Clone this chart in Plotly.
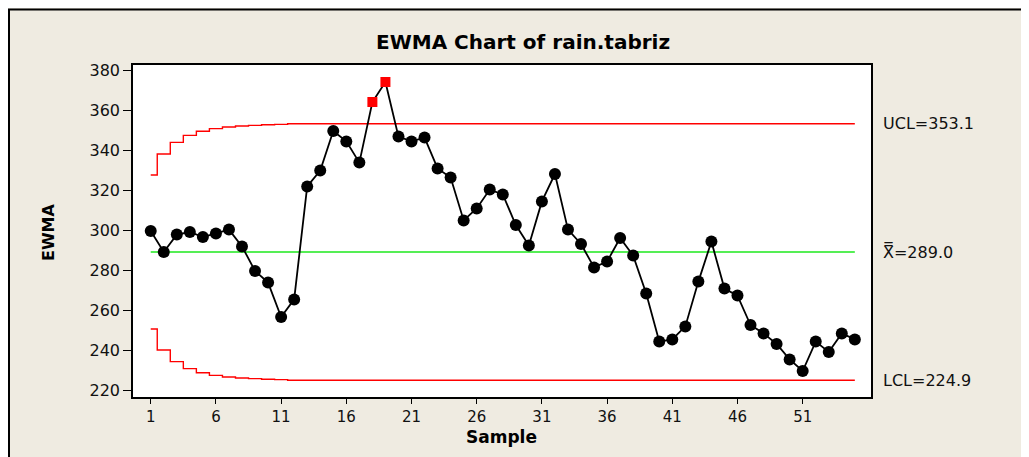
import plotly.graph_objects as go

# ---- data ----
samples = list(range(1, 56))
ewma = [299.5, 289.0, 297.7, 299.0, 296.5, 298.3, 300.2, 291.8, 279.5, 273.7,
        256.5, 265.3, 321.8, 329.7, 349.5, 344.3, 333.7, 364.0, 374.0, 346.7,
        344.3, 346.2, 330.8, 326.2, 304.8, 310.8, 320.2, 317.8, 302.5, 292.3,
        314.3, 328.0, 300.2, 293.0, 281.3, 284.2, 296.0, 287.2, 268.3, 244.2,
        245.3, 251.8, 274.2, 294.2, 270.7, 267.2, 252.5, 248.3, 243.0, 235.3,
        229.5, 244.2, 239.0, 248.3, 245.3]
ucl = [327.5, 338.0, 343.8, 347.3, 349.4, 350.7, 351.5, 352.0, 352.3, 352.6,
       352.8] + [353.1] * 44
lcl = [250.5, 240.0, 234.2, 230.7, 228.6, 227.3, 226.5, 226.0, 225.7, 225.4,
       225.2] + [224.9] * 44
center = 289.0
ucl_label = "UCL=353.1"
cl_label = "X\u033F=289.0"
lcl_label = "LCL=224.9"
xtick_vals = [1, 6, 11, 16, 21, 26, 31, 36, 41, 46, 51]
ytick_vals = [220, 240, 260, 280, 300, 320, 340, 360, 380]

FONT = "DejaVu Sans"
BEIGE = "#EFEBE1"

# out-of-control points (above UCL / below LCL) drawn as red squares
colors, symbols, sizes = [], [], []
for v, u, l in zip(ewma, ucl, lcl):
    if v > u or v < l:
        colors.append("#FF0000"); symbols.append("square"); sizes.append(10)
    else:
        colors.append("#000000"); symbols.append("circle"); sizes.append(12)

fig = go.Figure()
fig.add_trace(go.Scatter(x=samples, y=ucl, mode="lines", line=dict(color="#FF0000", width=1.4, shape="hvh"),
                         hoverinfo="skip", showlegend=False))
fig.add_trace(go.Scatter(x=samples, y=lcl, mode="lines", line=dict(color="#FF0000", width=1.4, shape="hvh"),
                         hoverinfo="skip", showlegend=False))
fig.add_trace(go.Scatter(x=[samples[0], samples[-1]], y=[center, center], mode="lines",
                         line=dict(color="#55EE55", width=2), hoverinfo="skip", showlegend=False))
fig.add_trace(go.Scatter(x=samples, y=ewma, mode="lines+markers",
                         line=dict(color="#000000", width=1.8),
                         marker=dict(color=colors, symbol=symbols, size=sizes, opacity=1,
                                     line=dict(width=0)),
                         opacity=1, showlegend=False))

# page is offset by the 8px body margin: work in page pixels, convert to figure pixels
OFF = 8
W, H = 1029 - OFF, 457 - OFF
L, R, T, B = 133 - OFF, 871 - OFF, 65 - OFF, 397 - OFF
pw, ph = R - L, B - T

def px(xpage):
    return (xpage - OFF - L) / pw

def py(ypage):
    return (B - (ypage - OFF)) / ph

fig.update_layout(
    width=W, height=H,
    margin=dict(l=L, r=W - R, t=T, b=H - B, pad=0),
    paper_bgcolor=BEIGE, plot_bgcolor="#FFFFFF",
    font=dict(family=FONT, color="#111111", size=16),
    showlegend=False,
)
fig.update_xaxes(range=[-0.36, 56.24], tickmode="array", tickvals=xtick_vals,
                 ticks="outside", ticklen=5, tickwidth=1.2, tickcolor="#000000",
                 showgrid=False, zeroline=False, showline=True, linecolor="#000000",
                 linewidth=1.5, mirror=True, tickfont=dict(size=15, family=FONT, color="#111111"))
fig.update_yaxes(range=[216.5, 382.5], tickmode="array", tickvals=ytick_vals,
                 ticks="outside", ticklen=8, tickwidth=1.2, tickcolor="#000000",
                 showgrid=False, zeroline=False, showline=True, linecolor="#000000",
                 linewidth=1.5, mirror=True, tickfont=dict(size=16, family=FONT, color="#111111"))

ann = [
    dict(text="<b>EWMA Chart of rain.tabriz</b>", x=px(523), y=py(42), xref="paper", yref="paper",
         showarrow=False, font=dict(size=20, family=FONT, color="#000000"), xanchor="center", yanchor="middle"),
    dict(text="<b>EWMA</b>", x=px(48), y=py(232), xref="paper", yref="paper", textangle=-90,
         showarrow=False, font=dict(size=16, family=FONT, color="#000000"), xanchor="center", yanchor="middle"),
    dict(text="<b>Sample</b>", x=px(501), y=py(437), xref="paper", yref="paper",
         showarrow=False, font=dict(size=17, family=FONT, color="#000000"), xanchor="center", yanchor="middle"),
    dict(text=ucl_label, x=px(881), y=ucl[-1], xref="paper", yref="y", showarrow=False,
         xanchor="left", yanchor="middle", font=dict(size=16, family=FONT, color="#111111")),
    dict(text=cl_label, x=px(881), y=center, xref="paper", yref="y", showarrow=False,
         xanchor="left", yanchor="middle", font=dict(size=16, family=FONT, color="#111111")),
    dict(text=lcl_label, x=px(881), y=lcl[-1], xref="paper", yref="y", showarrow=False,
         xanchor="left", yanchor="middle", font=dict(size=16, family=FONT, color="#111111")),
]
fig.update_layout(annotations=ann)

# outer frame: black border lines along top and left
fig.update_layout(shapes=[
    dict(type="line", xref="paper", yref="paper", x0=px(8), x1=px(1040), y0=py(9.5), y1=py(9.5),
         line=dict(color="#000000", width=2)),
    dict(type="line", xref="paper", yref="paper", x0=px(9), x1=px(9), y0=py(9), y1=py(470),
         line=dict(color="#000000", width=2)),
])

fig.write_html("out.html")
